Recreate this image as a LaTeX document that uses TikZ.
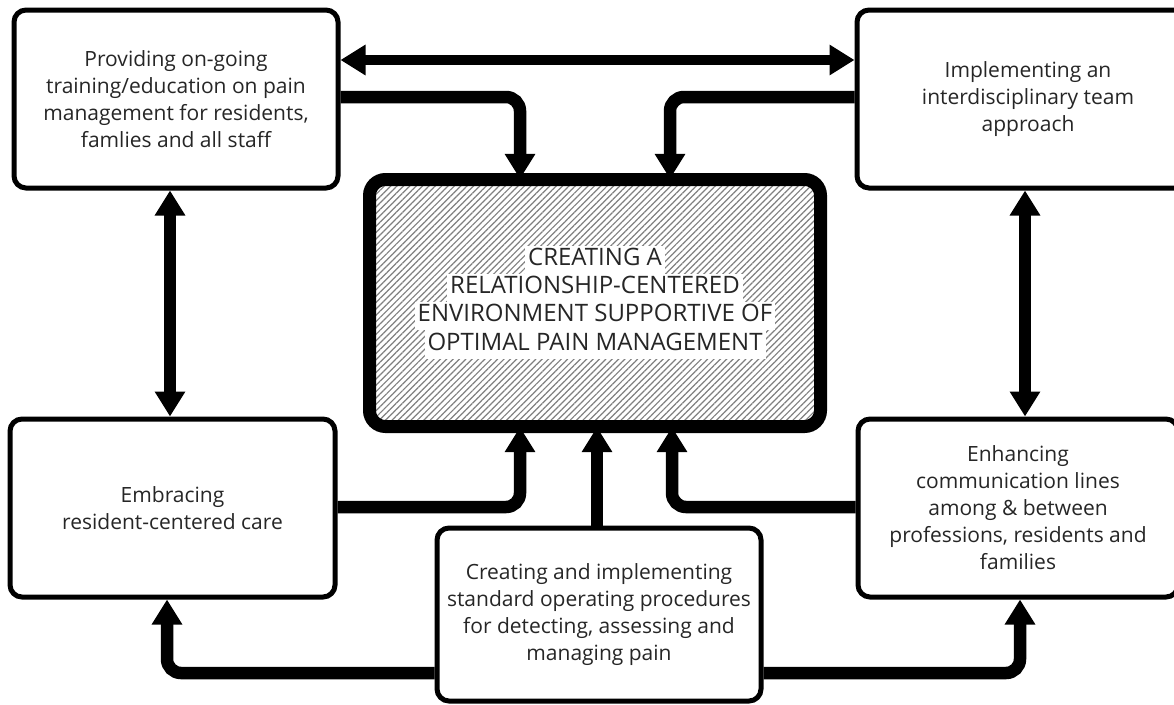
\documentclass[tikz,border=0pt]{standalone}
\usepackage{fontspec}
\setmainfont{Open Sans}
\usetikzlibrary{arrows.meta,patterns.meta}
\definecolor{txt}{HTML}{262626}
\begin{document}
\begin{tikzpicture}[x=1pt,y=-1pt,
  box/.style={draw=black,line width=5pt,rounded corners=12pt,fill=white,minimum width=324pt,minimum height=178pt,align=center,font=\fontsize{21}{27}\selectfont,text=txt,inner sep=2pt},
  cbox/.style={draw=black,line width=13pt,rounded corners=16pt,preaction={fill=white},pattern={Lines[angle=45,distance=4.5pt,line width=1.2pt]},pattern color=gray,minimum width=451pt,minimum height=247pt},
  conn/.style={line width=12.5pt,-{Triangle[width=29pt,length=25pt]},rounded corners=14pt},
  dconn/.style={line width=12.5pt,{Triangle[width=29pt,length=25pt]}-{Triangle[width=29pt,length=25pt]}},
  ctext/.style={fill=white,font=\fontsize{24}{28}\selectfont,text=txt,inner xsep=3pt,inner ysep=0pt,text height=20pt,text depth=8.5pt}
]
\clip (0,0) rectangle (1174,704);
\fill[white] (0,0) rectangle (1174,704);
% boxes
\node[box] (tl) at (176,99) {Providing on-going\\training/education on pain\\management for residents,\\famlies and all staff};
\node[box,minimum width=342pt] (tr) at (1028,99) {Implementing an\\interdisciplinary team\\approach};
\node[box,minimum width=325pt] (bl) at (172.5,508) {Embracing\\resident-centered care};
\node[box,minimum width=320pt] (br) at (1018,508) {Enhancing\\communication lines\\among \& between\\professions, residents and\\families};
\node[box,minimum height=173pt] (bc) at (599,614.5) {Creating and implementing\\standard operating procedures\\for detecting, assessing and\\managing pain};
\node[cbox] (ctr) at (595,303) {};
\node[ctext] (c1) at (595,260) {CREATING A};
\node[ctext] (c2) at (595,288) {RELATIONSHIP-CENTERED};
\node[ctext] (c3) at (595,316) {ENVIRONMENT SUPPORTIVE OF};
\node[ctext] (c4) at (595,344.5) {OPTIMAL PAIN MANAGEMENT};
% helper coordinates
\coordinate (yA) at (0,60);
\coordinate (yB) at (0,97);
\coordinate (yD) at (0,507);
\coordinate (yC) at (0,673);
\coordinate (xL) at (520,0);
\coordinate (xR) at (670,0);
\coordinate (xRb) at (672,0);
\coordinate (xM) at (597,0);
\coordinate (xV) at (170,0);
\coordinate (xW) at (1025,0);
\coordinate (xBL) at (167,0);
\coordinate (xBR) at (1020,0);
% connectors
\draw[dconn,line width=10pt] (tl.east |- yA) -- (tr.west |- yA);
\draw[conn] (tl.east |- yB) -| (ctr.north -| xL);
\draw[conn] (tr.west |- yB) -| (ctr.north -| xR);
\draw[conn] (bl.east |- yD) -| (ctr.south -| xL);
\draw[conn] (br.west |- yD) -| (ctr.south -| xRb);
\draw[conn] (bc.north -| xM) -- (ctr.south -| xM);
\draw[conn] (bc.west |- yC) -| (bl.south -| xBL);
\draw[conn] (bc.east |- yC) -| (br.south -| xBR);
\draw[dconn] (tl.south -| xV) -- (bl.north -| xV);
\draw[dconn] (tr.south -| xW) -- (br.north -| xW);
\end{tikzpicture}
\end{document}
